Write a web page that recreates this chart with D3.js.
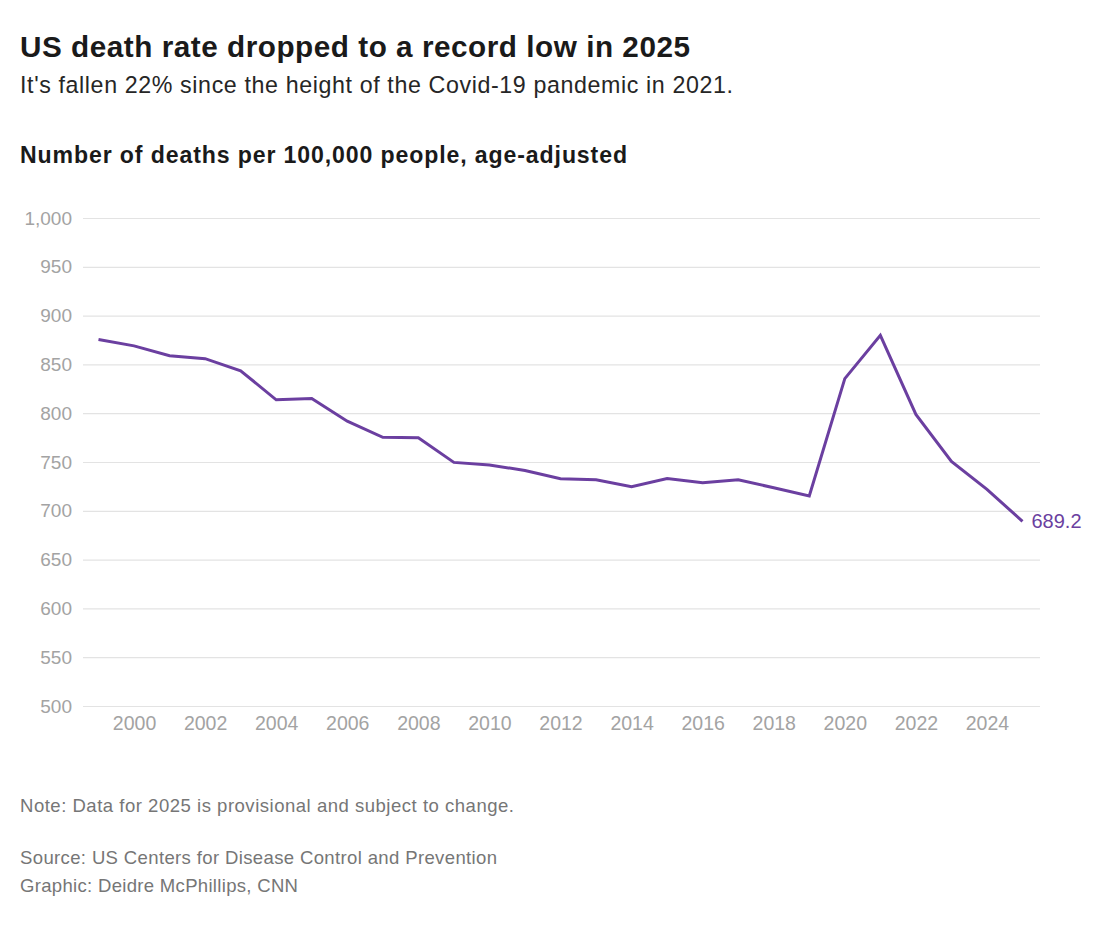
<!DOCTYPE html>
<html>
<head>
<meta charset="utf-8">
<script src="https://cdn.jsdelivr.net/npm/d3@7"></script>
<style>
  html, body { margin: 0; padding: 0; background: #fff; }
  svg { display: block; }
</style>
</head>
<body>
<svg id="chart" width="1100" height="938"></svg>
<script>
const years = [1999,2000,2001,2002,2003,2004,2005,2006,2007,2008,2009,2010,2011,2012,2013,2014,2015,2016,2017,2018,2019,2020,2021,2022,2023,2024,2025];
const deathRates = [875.6,869.0,858.8,855.9,843.5,813.7,815.0,791.8,775.3,774.9,749.6,747.0,741.3,732.8,731.9,724.6,733.1,728.8,731.9,723.6,715.2,835.4,879.7,798.8,750.5,722.0,689.2];
const yTicks = [500,550,600,650,700,750,800,850,900,950,1000];
const xTicks = [2000,2002,2004,2006,2008,2010,2012,2014,2016,2018,2020,2022,2024];

const titleText = "US death rate dropped to a record low in 2025";
const subtitleText = "It's fallen 22% since the height of the Covid-19 pandemic in 2021.";
const chartLabel = "Number of deaths per 100,000 people, age-adjusted";
const noteText = "Note: Data for 2025 is provisional and subject to change.";
const sourceText = "Source: US Centers for Disease Control and Prevention";
const creditText = "Graphic: Deidre McPhillips, CNN";

const svg = d3.select("#chart");
const font = "'Liberation Sans', Arial, Helvetica, sans-serif";
const purple = "#6b3fa0";

const x = d3.scaleLinear().domain([1999, 2025]).range([98.5, 1022.5]);
const y = d3.scaleLinear().domain([500, 1000]).range([706, 218]);

// fit text to a target width: grow font a little, then letter-spacing for the rest
function fit(sel, size, target, maxGrow) {
  const n = sel.text().length;
  let len = sel.node().getComputedTextLength();
  const grow = Math.min(maxGrow, target / len);
  sel.attr("font-size", size * grow);
  len = sel.node().getComputedTextLength();
  const ls = (target - len) / (n - 1);
  sel.attr("letter-spacing", Math.max(-1.5, Math.min(1.5, ls)));
}

function addText(txt, yPos, size, weight, color, target, maxGrow) {
  const t = svg.append("text").attr("x", 20).attr("y", yPos).text(txt)
    .attr("font-family", font).attr("font-weight", weight).attr("font-size", size)
    .attr("fill", color);
  fit(t, size, target, maxGrow);
  return t;
}

// Titles
addText(titleText, 57, 27, 700, "#1a1a1a", 670, 1.1);
addText(subtitleText, 93, 21.5, 400, "#262626", 713, 1.08);
addText(chartLabel, 163, 21, 700, "#1a1a1a", 607, 1.1);

// Gridlines + y labels
const yAxis = d3.axisLeft(y).tickValues(yTicks).tickSize(-(1040 - 83)).tickPadding(11)
  .tickFormat(d3.format(","));
const gy = svg.append("g").attr("transform", "translate(83,0)").call(yAxis);
gy.select(".domain").remove();
gy.selectAll(".tick line").attr("stroke", "#e3e3e3").attr("stroke-width", 1.2);
gy.selectAll(".tick text").attr("font-family", font).attr("font-size", 19)
  .attr("fill", "#a3a3a3");

// x labels
const xAxis = d3.axisBottom(x).tickValues(xTicks).tickSize(0).tickPadding(10)
  .tickFormat(d3.format("d"));
const gx = svg.append("g").attr("transform", "translate(0,706)").call(xAxis);
gx.select(".domain").remove();
gx.selectAll(".tick text").attr("font-family", font).attr("font-size", 19.5)
  .attr("fill", "#a3a3a3");

// Line
const data = years.map((yr, i) => ({ year: yr, value: deathRates[i] }));
svg.append("path").datum(data)
  .attr("fill", "none").attr("stroke", purple).attr("stroke-width", 3)
  .attr("stroke-linejoin", "miter").attr("stroke-linecap", "butt")
  .attr("d", d3.line().x(d => x(d.year)).y(d => y(d.value)));

// End label
const last = data[data.length - 1];
svg.append("text").attr("x", x(last.year) + 9).attr("y", y(last.value) + 1)
  .attr("dominant-baseline", "middle").text(last.value.toFixed(1))
  .attr("font-family", font).attr("font-size", 20).attr("fill", purple);

// Notes
addText(noteText, 812, 17.5, 400, "#767676", 494, 1.06);
addText(sourceText, 864, 17.5, 400, "#767676", 477, 1.06);
addText(creditText, 892, 17.5, 400, "#767676", 278, 1.06);
</script>
</body>
</html>
